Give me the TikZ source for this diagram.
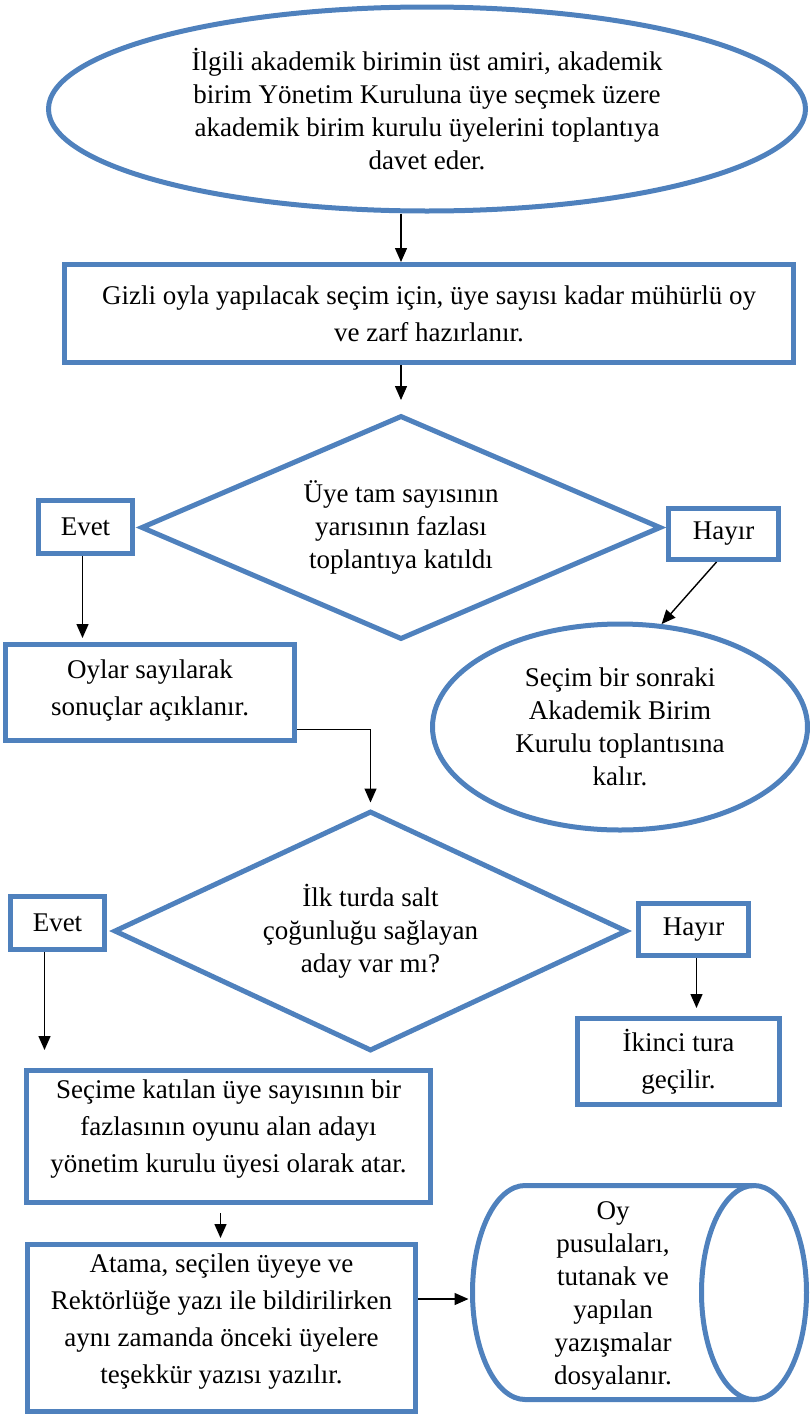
\documentclass[tikz,border=0pt]{standalone}
\usepackage{fontspec}
\setmainfont{Liberation Serif}
\usetikzlibrary{shapes.geometric,arrows.meta}
\definecolor{boxblue}{HTML}{4F81BD}
\tikzset{
  rim/.style={draw=boxblue, line width=5pt},
  blueline/.style={rim, inner sep=0pt, align=center,
    font=\fontsize{27}{37}\selectfont},
  tightline/.style={font=\fontsize{27}{33}\selectfont},
  box/.style={blueline, rectangle, fill=white},
  oval/.style={blueline, ellipse},
  choice/.style={blueline, tightline, diamond},
  arr/.style={-{Triangle[length=14pt,width=12pt]}, line width=1.4pt},
}
\begin{document}
\begin{tikzpicture}[x=1pt, y=-1pt]
        \useasboundingbox (0,0) rectangle (809,1419);

        % Steps
        \node[oval, tightline, minimum width=757pt, minimum height=204pt] (invite) at (427, 109) {İlgili akademik birimin üst amiri, akademik\\birim Yönetim Kuruluna üye seçmek üzere\\akademik birim kurulu üyelerini toplantıya\\davet eder.};
        \node[box, minimum width=729pt, minimum height=98pt] (prep) at (429, 313.5) {Gizli oyla yapılacak seçim için, üye sayısı kadar mühürlü oy\\ve zarf hazırlanır.};
        \node[choice, aspect=2.32, minimum width=520pt, minimum height=224pt] (quorum) at (401, 527.5) {Üye tam sayısının\\yarısının fazlası\\toplantıya katıldı};
        \node[box, minimum width=94pt, minimum height=53pt] (yes1) at (85.5, 527) {Evet};
        \node[box, minimum width=110pt, minimum height=51pt] (no1) at (723.5, 534) {Hayır};
        \node[box, minimum width=289pt, minimum height=96pt, text depth=10pt] (results) at (150, 692.5) {Oylar sayılarak\\sonuçlar açıklanır.};
        \node[oval, tightline, minimum width=375pt, minimum height=206pt] (postpone) at (620, 727) {Seçim bir sonraki\\Akademik Birim\\Kurulu toplantısına\\kalır.};
        \node[choice, aspect=2.14, minimum width=513pt, minimum height=240pt] (majority) at (370.5, 931) {İlk turda salt\\çoğunluğu sağlayan\\aday var mı?};
        \node[box, minimum width=94pt, minimum height=53pt] (yes2) at (57.5, 923) {Evet};
        \node[box, minimum width=110pt, minimum height=52pt] (no2) at (693.5, 929.5) {Hayır};
        \node[box, minimum width=202pt, minimum height=86pt] (second) at (678.5, 1061.5) {İkinci tura\\geçilir.};
        \node[box, minimum width=404pt, minimum height=132pt, text depth=20pt] (choose) at (228.5, 1136.5) {Seçime katılan üye sayısının bir\\fazlasının oyunu alan adayı\\yönetim kurulu üyesi olarak atar.};
        \node[box, minimum width=388pt, minimum height=167pt, text depth=18pt] (notify) at (221.5, 1328) {Atama, seçilen üyeye ve\\Rektörlüğe yazı ile bildirilirken\\aynı zamanda önceki üyelere\\teşekkür yazısı yazılır.};

        % Archive cylinder
        \node[align=center, inner sep=0pt, tightline] (archive) at (613, 1296) {Oy\\pusulaları,\\tutanak ve\\yapılan\\yazışmalar\\dosyalanır.};
        \coordinate (rimleft) at (472.5, 1292.5);
        \draw[rim] (754, 1185.5) -- (525, 1185.5) arc[start angle=90, end angle=270, x radius=52.5pt, y radius=107pt] -- (754, 1399.5);
        \draw[rim] (754, 1292.5) ellipse [x radius=52.5pt, y radius=107pt];

        % Arrows
        \draw[arr] (invite.south -| quorum.north) -- (prep.north -| quorum.north);
        \draw[arr, shorten >=13pt] (prep.south -| quorum.north) -- (quorum.north);
        \draw[arr, shorten >=4pt] ([xshift=-3pt]yes1.south) -- ([xshift=-3pt]yes1.south |- results.north);
        \draw[arr] ([xshift=-7pt]no1.south) -- (postpone.68);
        \draw[arr, shorten >=6pt] ([yshift=-37pt]results.east) -| (majority.north);
        \draw[arr, shorten >=18pt] ([xshift=-13pt]yes2.south) -- ([xshift=-13pt]yes2.south |- choose.north);
        \draw[arr, shorten >=8pt] ([xshift=3pt]no2.south) -- ([xshift=3pt]no2.south |- second.north);
        \draw[arr, shorten <=8pt, shorten >=4pt] ([xshift=-8pt]choose.south) -- ([xshift=-8pt]choose.south |- notify.north);
        \draw[arr, shorten >=4pt] ([yshift=29pt]notify.east) -- ([yshift=29pt]notify.east -| rimleft);
\end{tikzpicture}
\end{document}
